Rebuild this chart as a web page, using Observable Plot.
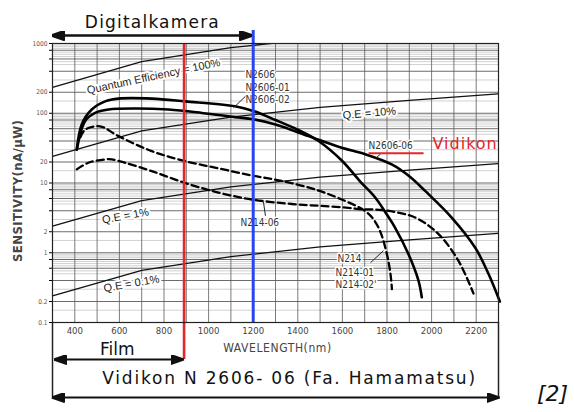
<!DOCTYPE html>
<html>
<head>
<meta charset="utf-8">
<script src="https://cdn.jsdelivr.net/npm/d3@7"></script>
<script src="https://cdn.jsdelivr.net/npm/@observablehq/plot@0.6"></script>
<style>
  body { margin: 0; background: #fff; }
  #chart svg { display: block; }
</style>
</head>
<body>
<div id="chart"></div>
<script>
// Spectral sensitivity of vidicon camera tubes, wavelength in nm, sensitivity in nA/µW

// N2606 / N2606-01 / N2606-02 (solid)
const n2606Wave = [409, 431, 476, 536, 596, 745, 895, 1118, 1200, 1300, 1400, 1493, 1597, 1680, 1747, 1800, 1836, 1896, 1941, 1956];
const n2606Sens = [30, 69, 113, 148, 162, 162, 148, 126, 108, 80, 58, 40, 21, 10.5, 6.2, 3.5, 2.3, 0.96, 0.40, 0.23];

// N2606-06 (solid, extended infrared)
const n2606_06Wave = [409, 446, 491, 551, 670, 820, 970, 1119, 1200, 1300, 1448, 1597, 1700, 1821, 1900, 1971, 2090, 2195, 2255, 2306];
const n2606_06Sens = [30, 77, 101, 113, 117, 113, 101, 88, 82, 69, 47, 32, 26, 18.5, 12.5, 7.7, 3.2, 1.19, 0.5, 0.2];

// N214 / N214-01 / N214-02 (dashed)
const n214Wave = [425, 446, 513, 596, 745, 895, 1044, 1194, 1328, 1477, 1597, 1700, 1740, 1770, 1795, 1810, 1819, 1822];
const n214Sens = [45, 58, 65, 47, 28.6, 20.6, 16.2, 12.8, 10.7, 8.1, 5.8, 4.0, 3.0, 2.0, 1.1, 0.65, 0.4, 0.3];

// N214-06 (dashed)
const n214_06Wave = [409, 461, 536, 566, 626, 745, 895, 1044, 1194, 1373, 1500, 1627, 1687, 1777, 1926, 2031, 2120, 2188];
const n214_06Sens = [15.7, 19.5, 21.8, 21.8, 19.5, 14.8, 10, 7.3, 5.8, 5.0, 4.7, 4.4, 4.2, 4.1, 3.2, 1.85, 0.77, 0.26];

// Constant quantum efficiency reference lines
const qeWave = [300, 700, 1100, 1500, 1900, 2300];
const qe100Sens = [235, 550, 870, 1190, 1510, 1830];
const qe10Sens = [24, 56, 88, 121, 153, 190];
const qe1Sens = [2.4, 5.6, 8.8, 12.1, 15.3, 19];
const qe01Sens = [0.24, 0.56, 0.88, 1.21, 1.53, 1.9];

// Band limits (nm)
const filmLimit = 890;
const digitalLimit = 1200;
const rangeStart = 300;
const rangeEnd = 2300;

// Axis ticks and grid
const xTicks = [400, 600, 800, 1000, 1200, 1400, 1600, 1800, 2000, 2200];
const xGrid = d3.range(300, 2301, 100);
const yTicks = [0.1, 0.2, 0.4, 0.6, 0.8, 1, 2, 4, 6, 8, 10, 20, 40, 60, 80, 100, 200, 400, 600, 800, 1000];
const decades = [0.1, 1, 10, 100];
const yMajor = decades.flatMap(d => [1, 2, 4, 6, 8].map(k => k * d)).concat([1000]);
const yMinor = decades.flatMap(d => [1.5, 3, 5, 5.5, 6.5, 7, 7.5, 8.5, 9, 9.5].map(k => k * d));

// Labels
const qeLabels = ["Quantum Efficiency = 100%", "Q.E = 10%", "Q.E = 1%", "Q.E = 0.1%"];
const qeLabelWave = [753, 1721, 627, 654];
const qeLabelSens = [338, 100, 3.38, 0.36];
const qeLabelAngle = [-12, -5, -10, -10];

const tubeLabels = ["N2606", "N2606-01", "N2606-02", "N2606-06", "N214-06", "N214", "N214-01", "N214-02'"];
const tubeLabelWave = [1165, 1165, 1165, 1717, 1143, 1578, 1569, 1569];
const tubeLabelSens = [361, 235, 158, 33.8, 2.68, 0.82, 0.52, 0.35];

const series = (wave, sens, name) => wave.map((w, i) => ({wave: w, sens: sens[i], name}));
const solid = [
  ...series(n2606Wave, n2606Sens, "N2606"),
  ...series(n2606_06Wave, n2606_06Sens, "N2606-06")
];
const dashed = [
  ...series(n214Wave, n214Sens, "N214"),
  ...series(n214_06Wave, n214_06Sens, "N214-06")
];
const qe = [
  ...series(qeWave, qe100Sens, "100"),
  ...series(qeWave, qe10Sens, "10"),
  ...series(qeWave, qe1Sens, "1"),
  ...series(qeWave, qe01Sens, "0.1")
];
const qeText = qeLabels.map((t, i) => ({t, wave: qeLabelWave[i], sens: qeLabelSens[i], a: qeLabelAngle[i]}));
const tubeText = tubeLabels.map((t, i) => ({t, wave: tubeLabelWave[i], sens: tubeLabelSens[i]}));

// Leader lines from labels to curves
const leaders = [
  {x1: 1165, y1: 175, x2: 1112, y2: 120},
  {x1: 1771, y1: 26, x2: 1748, y2: 22.5},
  {x1: 1255, y1: 3.38, x2: 1246, y2: 5.35},
  {x1: 1726, y1: 0.72, x2: 1784, y2: 1.07}
];

// Filled arrowhead marker
const wedge = (color) => {
  const m = d3.create("svg:marker")
    .attr("viewBox", "-13 -5 13 10")
    .attr("markerUnits", "userSpaceOnUse")
    .attr("markerWidth", 13)
    .attr("markerHeight", 10)
    .attr("refX", -1)
    .attr("refY", 0)
    .attr("orient", "auto-start-reverse");
  m.append("path").attr("d", "M-13,-4.5L0,0L-13,4.5Z").attr("fill", color);
  return m.node();
};

const font = "'Liberation Sans', Arial, sans-serif";
const narrow = "'Liberation Sans Narrow', 'DejaVu Sans Condensed', 'Liberation Sans', sans-serif";
const verdana = "'DejaVu Sans', Verdana, sans-serif";

const chart = Plot.plot({
  width: 574,
  height: 412,
  marginLeft: 52,
  marginRight: 76,
  marginTop: 43,
  marginBottom: 90,
  style: {fontFamily: font, background: "#fff", overflow: "visible"},
  x: {domain: [rangeStart, rangeEnd]},
  y: {type: "log", domain: [0.1, 1000]},
  marks: [
    // grid
    Plot.ruleY(yMinor, {stroke: "#bdbdbd", strokeWidth: 0.7}),
    Plot.ruleY(yMajor, {stroke: "#5a5a5a", strokeWidth: 0.9}),
    Plot.ruleX(xGrid, {stroke: "#5a5a5a", strokeWidth: 0.8}),

    // quantum efficiency lines
    Plot.line(qe, {x: "wave", y: "sens", z: "name", stroke: "#111", strokeWidth: 1.3, clip: true}),
    Plot.text(qeText, {x: "wave", y: "sens", text: "t", rotate: "a", fontSize: 11, fill: "#222",
      stroke: "white", strokeWidth: 4, fontFamily: font}),

    // tube curves
    Plot.line(solid, {x: "wave", y: "sens", z: "name", curve: "catmull-rom", stroke: "#000", strokeWidth: 2.6}),
    Plot.line(dashed, {x: "wave", y: "sens", z: "name", curve: "catmull-rom", stroke: "#000", strokeWidth: 2.3,
      strokeDasharray: "7,4"}),

    // curve labels
    Plot.text(tubeText, {x: "wave", y: "sens", text: "t", textAnchor: "start", fontSize: 10, fill: "#333",
      stroke: "white", strokeWidth: 3, fontFamily: narrow}),
    Plot.link(leaders, {x1: "x1", y1: "y1", x2: "x2", y2: "y2", stroke: "#222", strokeWidth: 1}),
    Plot.link([0], {x1: 1717, x2: 1964, y1: 26.8, y2: 26.8, stroke: "#e3262b", strokeWidth: 2}),
    Plot.text(["Vidikon"], {x: 2004, y: 36, text: d => d, textAnchor: "start", fontSize: 16, fill: "#e3262b",
      fontFamily: verdana}),

    // band limits
    Plot.ruleX([filmLimit], {stroke: "#e3262b", strokeWidth: 2.6, insetBottom: -37}),
    Plot.ruleX([digitalLimit], {stroke: "#2746f0", strokeWidth: 3, insetTop: -13}),

    Plot.frame({stroke: "#222", strokeWidth: 1.2}),

    // axes
    Plot.axisX({ticks: xTicks, tickSize: 0, tickPadding: 5, tickFormat: d => String(d), fontSize: 9.5,
      fill: "#444", label: null, fontFamily: narrow}),
    Plot.axisY({ticks: yTicks, tickSize: 3, tickPadding: 2, tickFormat: d => String(d), fontSize: 6.5,
      fill: "#555", label: null, fontFamily: narrow}),
    Plot.text(["SENSITIVITY(nA/µW)"], {x: rangeStart, y: 7.7, text: d => d, rotate: -90, dx: -35,
      fontSize: 13, fill: "#444", fontFamily: narrow, fontWeight: "bold"}),
    Plot.text(["WAVELENGTH(nm)"], {x: 1309, y: 0.1, text: d => d, dy: 26, fontSize: 12, fill: "#444",
      fontFamily: narrow}),

    // spectral ranges
    Plot.link([0], {x1: rangeStart, x2: digitalLimit - 8, y1: 1000, y2: 1000, dy: -8, stroke: "#111",
      strokeWidth: 2.5, markerStart: wedge, markerEnd: wedge}),
    Plot.text(["Digitalkamera"], {x: 748, y: 1000, dy: -21, text: d => d, fontSize: 17, fill: "#111",
      fontFamily: verdana}),
    Plot.text(["Film"], {x: 590, y: 0.1, dy: 27, text: d => d, fontSize: 17, fill: "#111", fontFamily: verdana}),
    Plot.link([0], {x1: rangeStart + 10, x2: filmLimit - 5, y1: 0.1, y2: 0.1, dy: 37, stroke: "#111",
      strokeWidth: 2, markerStart: wedge, markerEnd: wedge}),
    Plot.ruleX([rangeStart, rangeEnd], {stroke: "#222", strokeWidth: 1.5, insetTop: 279, insetBottom: -77}),
    Plot.text(["Vidikon N 2606- 06 (Fa. Hamamatsu)"], {x: 1363, y: 0.1, dy: 56, text: d => d, fontSize: 17,
      fill: "#111", fontFamily: verdana}),
    Plot.link([0], {x1: rangeStart, x2: rangeEnd, y1: 0.1, y2: 0.1, dy: 75, stroke: "#111",
      strokeWidth: 2, markerStart: wedge, markerEnd: wedge}),
    Plot.text(["[2]"], {x: 2542, y: 0.1, dy: 71, text: d => d, fontSize: 22, fill: "#111",
      fontFamily: verdana, fontStyle: "italic"})
  ]
});

// Letter spacing for the wide annotation lettering
const spacing = {
  "Digitalkamera": "1.2px",
  "Vidikon N 2606- 06 (Fa. Hamamatsu)": "1.8px",
  "Vidikon": "1px",
  "WAVELENGTH(nm)": "0.6px",
  "SENSITIVITY(nA/µW)": "0.4px"
};
d3.select(chart).selectAll("text").each(function () {
  const s = spacing[this.textContent];
  if (s) this.style.letterSpacing = s;
});

document.getElementById("chart").append(chart);
</script>
</body>
</html>
